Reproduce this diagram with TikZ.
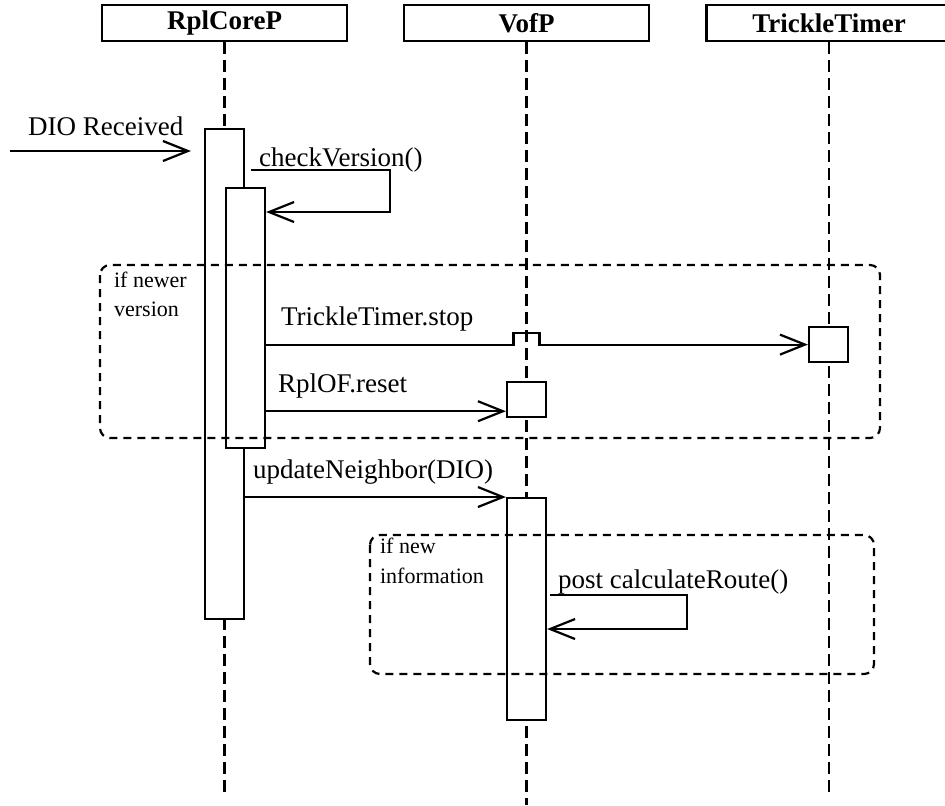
\documentclass[tikz,border=0pt]{standalone}
\usepackage{fontspec}
\setmainfont{Liberation Serif}
\usetikzlibrary{arrows.meta,calc}
\begin{document}
\begin{tikzpicture}[x=0.5pt,y=-0.5pt,line width=1.1pt,
  >={Straight Barb[length=12.5pt,width=10pt]},
  head/.style={draw,minimum width=122.5pt,minimum height=18pt,inner sep=0pt,font=\fontsize{13.5}{15}\selectfont\bfseries},
  bar/.style={draw,fill=white,minimum width=19.5pt,inner sep=0pt,anchor=north},
  lifeline/.style={dash pattern=on 6pt off 3pt},
  frame/.style={dash pattern=on 4pt off 3pt,rounded corners=5pt},
  msglabel/.style={anchor=base west,inner sep=0pt,font=\fontsize{13.5}{15}\selectfont},
  guard/.style={anchor=base west,inner sep=0pt,font=\fontsize{11}{13}\selectfont}]
\useasboundingbox (0,0) rectangle (945,805);
% objects and lifelines
\node[head] (core) at (224.5,23) {RplCoreP};
\node[head] (vof) at (526.5,23) {VofP};
\node[head] (timer) at (829,23) {TrickleTimer};
\foreach \obj/\yend in {core/792,vof/805,timer/792}
  \draw[lifeline] (\obj.south) -- (\obj.south |- 0,\yend);
% activations
\node[bar,minimum height=245pt] (corebar) at (224.5,128) {};
\node[bar,minimum height=130pt] (checkbar) at (245.5,187) {};
\node[bar,minimum height=17.5pt] (stopbox) at (828.5,326) {};
\node[bar,minimum height=17.5pt] (resetbox) at (526.5,381) {};
\node[bar,minimum height=111pt] (vofbar) at (526.5,497) {};
% fragments
\draw[frame] (100,265) rectangle (880,438);
\node[guard] (newer1) at (113,287) {if newer};
\node[guard] (newer2) at (113,316) {version};
\draw[frame] (370,535) rectangle (874,674);
\node[guard] (newinfo1) at (379,553) {if new};
\node[guard] (newinfo2) at (379,583) {information};
% messages
\coordinate (dioin) at (10,151);
\draw[->,shorten >=6.5pt] (dioin) -- (corebar.west |- dioin);
\node[msglabel] (diolabel) at (27,135) {DIO Received};
\draw[->] ($(corebar.east |- 0,170)+(6,0)$) -- (390,170) -- (390,212) -- (checkbar.east |- 0,212);
\node[msglabel] (checklabel) at (258,166) {checkVersion()};
\draw[->] (checkbar.east |- stopbox.west) -- ($(vof.south |- stopbox.west)+(-13,0)$)
  -- ++(0,-12) -- ++(26,0) -- ++(0,12) -- (stopbox.west);
\node[msglabel] (stoplabel) at (280,325) {TrickleTimer.stop};
\coordinate (resetin) at ($(resetbox.south west)+(0,-7)$);
\draw[->] (checkbar.east |- resetin) -- (resetin);
\node[msglabel] (resetlabel) at (277,392) {RplOF.reset};
\draw[->] (corebar.east |- vofbar.north west) -- (vofbar.north west);
\node[msglabel] (updatelabel) at (252,478) {updateNeighbor(DIO)};
\draw[->] ($(vofbar.east |- 0,595)+(3,0)$) -- (687,595) -- (687,629) -- (vofbar.east |- 0,629);
\node[msglabel] (routelabel) at (557,588) {post calculateRoute()};
\end{tikzpicture}
\end{document}
